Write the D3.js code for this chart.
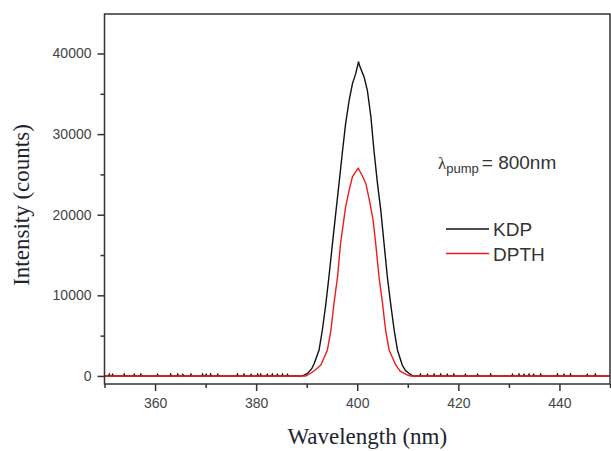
<!DOCTYPE html>
<html>
<head>
<meta charset="utf-8">
<script src="https://cdn.jsdelivr.net/npm/d3@7/dist/d3.min.js"></script>
<style>
  html, body { margin: 0; padding: 0; background: #fff; }
  svg { display: block; }
</style>
</head>
<body>
<svg id="chart" width="611" height="451"></svg>
<script>
// ---------------- data ----------------
const xTicks = [360, 380, 400, 420, 440];
const xMinorTicks = [350, 370, 390, 410, 430, 450];
const yTicks = [0, 10000, 20000, 30000, 40000];
const yMinorTicks = [5000, 15000, 25000, 35000];
const seriesNames = ["KDP", "DPTH"];
const seriesColors = ["#111111", "#ee1c1c"];

// KDP spectrum [wavelength nm, counts] (baseline noise spikes + peak)
const kdpSpectrum = [
  [350,0],
  [350.8,0],[350.95,220],[351.1,0],
  [351.45,0],[351.6,180],[351.75,0],
  [353.75,0],[353.9,220],[354.05,0],
  [355.75,0],[355.9,180],[356.05,0],
  [357.05,0],[357.2,220],[357.35,0],
  [360.35,0],[360.5,180],[360.65,0],
  [362.95,0],[363.1,220],[363.25,0],
  [364.35,0],[364.5,220],[364.65,0],
  [365.35,0],[365.5,180],[365.65,0],
  [366.95,0],[367.1,220],[367.25,0],
  [369.25,0],[369.4,220],[369.55,0],
  [369.95,0],[370.1,180],[370.25,0],
  [370.85,0],[371.0,220],[371.15,0],
  [372.25,0],[372.4,180],[372.55,0],
  [376.15,0],[376.3,220],[376.45,0],
  [377.45,0],[377.6,220],[377.75,0],
  [378.85,0],[379.0,180],[379.15,0],
  [380.15,0],[380.3,220],[380.45,0],
  [380.75,0],[380.9,220],[381.05,0],
  [382.05,0],[382.2,180],[382.35,0],
  [383.05,0],[383.2,220],[383.35,0],
  [384.05,0],[384.2,180],[384.35,0],
  [385.05,0],[385.2,220],[385.35,0],
  [386.05,0],[386.2,180],[386.35,0],
  [388.9,0],[389.5,100],[390.2,330],[391.0,900],[391.5,1570],
  [392.45,3220],[393.1,5700],[393.8,9010],[394.4,12300],[395.1,16440],
  [395.75,20200],[396.4,23880],[397.1,28000],[397.7,31310],[398.4,34200],
  [399.05,36270],[399.7,37500],[400.1,38600],[400.25,39000],[400.45,38500],
  [401.35,37100],[402.0,35440],[402.7,32130],[403.3,28000],[404.0,23880],
  [404.65,20570],[405.3,16440],[405.95,12300],[406.6,9010],[407.3,5700],
  [407.95,3220],[408.9,1360],[409.5,700],[410.2,330],[411.0,0],
  [412.35,0],[412.5,220],[412.65,0],
  [413.75,0],[413.9,180],[414.05,0],
  [415.05,0],[415.2,220],[415.35,0],
  [416.35,0],[416.5,220],[416.65,0],
  [417.65,0],[417.8,180],[417.95,0],
  [418.95,0],[419.1,220],[419.25,0],
  [421.25,0],[421.4,180],[421.55,0],
  [423.65,0],[423.8,180],[423.95,0],
  [426.25,0],[426.4,220],[426.55,0],
  [430.55,0],[430.7,180],[430.85,0],
  [431.85,0],[432.0,220],[432.15,0],
  [432.85,0],[433.0,180],[433.15,0],
  [433.85,0],[434.0,220],[434.15,0],
  [434.75,0],[434.9,180],[435.05,0],
  [436.15,0],[436.3,220],[436.45,0],
  [439.45,0],[439.6,220],[439.75,0],
  [440.75,0],[440.9,180],[441.05,0],
  [442.05,0],[442.2,220],[442.35,0],
  [445.35,0],[445.5,180],[445.65,0],
  [446.95,0],[447.1,220],[447.25,0],
  [450,0]
];

// DPTH spectrum [wavelength nm, counts]
const dpthSpectrum = [
  [350,0],[389.8,0],[390.8,330],[391.8,800],[392.8,1360],[394.1,3220],
  [394.8,5700],[395.4,9010],[396.1,12300],[396.7,16440],[397.7,20980],
  [398.4,23050],[399.05,24700],[399.7,25350],[400.2,25750],[400.6,25300],
  [401.0,24800],[401.7,23880],[402.5,21500],[403.1,19500],[403.65,16440],
  [404.3,12300],[405.0,9010],[405.6,5700],[406.3,3220],[407.6,1360],
  [408.5,600],[409.6,200],[410.5,0],[450,0]
];

// ---------------- chart ----------------
const svg = d3.select("#chart");
const mLeft = 104.5, mRight = 610, mTop = 14, mBottom = 384;

const x = d3.scaleLinear().domain([350, 450]).range([mLeft, mRight]);
const y = d3.scaleLinear().domain([-1000, 44900]).range([mBottom, mTop]);

const axisColor = "#333";
const tickTextColor = "#444";

// curves
const line = d3.line().x(d => x(d[0])).y(d => y(d[1]));
const plot = svg.append("g");
plot.append("path").datum(kdpSpectrum)
  .attr("d", line).attr("fill", "none")
  .attr("stroke", seriesColors[0]).attr("stroke-width", 1.4);
plot.append("path").datum(dpthSpectrum)
  .attr("d", line).attr("fill", "none")
  .attr("stroke", seriesColors[1]).attr("stroke-width", 1.4);

// frame
svg.append("rect")
  .attr("x", mLeft).attr("y", mTop)
  .attr("width", mRight - mLeft).attr("height", mBottom - mTop)
  .attr("fill", "none").attr("stroke", axisColor).attr("stroke-width", 1.5);

// y axis
const yAxis = svg.append("g").attr("transform", `translate(${mLeft},0)`)
  .call(d3.axisLeft(y).tickValues(yTicks).tickSize(7).tickPadding(6).tickFormat(d3.format("d")));
const yMinor = svg.append("g").attr("transform", `translate(${mLeft},0)`)
  .call(d3.axisLeft(y).tickValues(yMinorTicks).tickSize(4).tickFormat(""));

// x axis
const xAxis = svg.append("g").attr("transform", `translate(0,${mBottom})`)
  .call(d3.axisBottom(x).tickValues(xTicks).tickSize(7).tickPadding(7).tickFormat(d3.format("d")));
const xMinor = svg.append("g").attr("transform", `translate(0,${mBottom})`)
  .call(d3.axisBottom(x).tickValues(xMinorTicks).tickSize(4).tickFormat(""));

[yAxis, yMinor, xAxis, xMinor].forEach(g => {
  g.select(".domain").remove();
  g.selectAll(".tick line").attr("stroke", axisColor).attr("stroke-width", 1.5);
  g.selectAll(".tick text")
    .attr("fill", tickTextColor)
    .style("font-family", "'Liberation Sans', Arial, sans-serif")
    .style("font-size", "14px");
});

// axis titles
svg.append("text")
  .attr("transform", `translate(29,${(mTop + mBottom) / 2 + 6}) rotate(-90)`)
  .attr("text-anchor", "middle")
  .style("font-family", "'Liberation Serif', 'Times New Roman', serif")
  .style("font-size", "23px")
  .attr("fill", "#1c2430")
  .text("Intensity (counts)");

svg.append("text")
  .attr("x", (mLeft + mRight) / 2 + 10).attr("y", 444)
  .attr("text-anchor", "middle")
  .style("font-family", "'Liberation Serif', 'Times New Roman', serif")
  .style("font-size", "23px")
  .attr("fill", "#1c2430")
  .text("Wavelength (nm)");

// annotation: λpump = 800nm
const ann = svg.append("text")
  .attr("x", 438).attr("y", 169)
  .attr("fill", "#333")
  .style("font-family", "'Liberation Sans', Arial, sans-serif")
  .style("font-size", "19px");
ann.append("tspan").style("font-family", "'Liberation Serif', serif").style("font-size", "17px").text("λ");
ann.append("tspan").attr("dy", 4).style("font-size", "13px").text("pump");
ann.append("tspan").attr("dy", -4).attr("dx", 3).text("= 800nm");

// legend
const legend = svg.append("g");
seriesNames.forEach((name, i) => {
  const ly = 229 + i * 24.5;
  legend.append("line")
    .attr("x1", 446).attr("x2", 489)
    .attr("y1", ly).attr("y2", ly)
    .attr("stroke", seriesColors[i]).attr("stroke-width", 1.5);
  legend.append("text")
    .attr("x", 493).attr("y", ly + 7)
    .attr("fill", "#333")
    .style("font-family", "'Liberation Sans', Arial, sans-serif")
    .style("font-size", "19px")
    .text(name);
});
</script>
</body>
</html>
